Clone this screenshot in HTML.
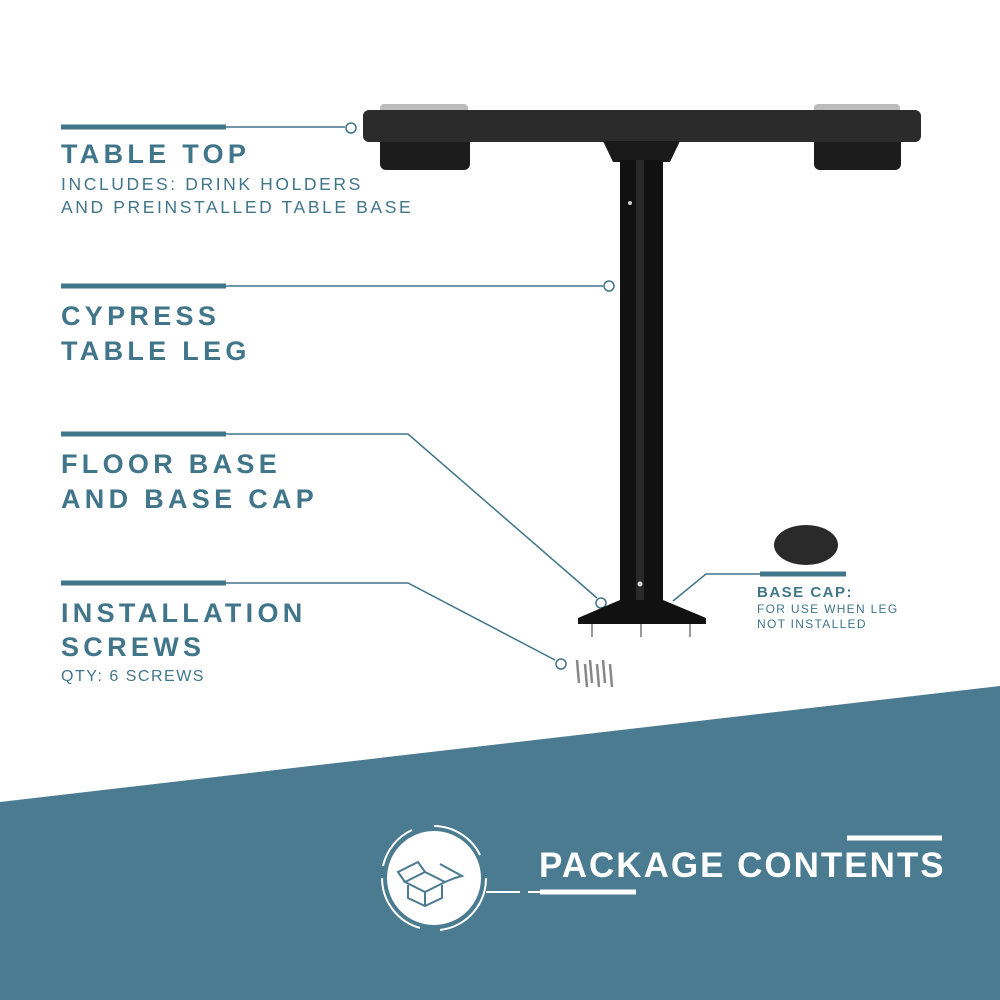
<!DOCTYPE html>
<html><head><meta charset="utf-8"><style>
html,body{margin:0;padding:0;background:#fff;}
svg{display:block}
text{font-family:"Liberation Sans",sans-serif;font-weight:bold;fill:#41758a;}
.s{font-weight:normal;letter-spacing:2.6px;font-size:17.5px}
.b{font-size:27px;letter-spacing:4.3px}
</style></head><body>
<svg width="1000" height="1000" viewBox="0 0 1000 1000">
<polygon points="0,802 1000,686 1000,1000 0,1000" fill="#4a7b90"/>
<g stroke="#41758a" fill="none">
<line x1="61" y1="127" x2="226" y2="127" stroke-width="5"/>
<line x1="226" y1="127" x2="345" y2="127" stroke-width="1.5"/>
<circle cx="351" cy="128" r="5" stroke-width="1.5"/>
<line x1="61" y1="286" x2="226" y2="286" stroke-width="5"/>
<line x1="226" y1="286" x2="603" y2="286" stroke-width="1.5"/>
<circle cx="609" cy="286" r="5" stroke-width="1.5"/>
<line x1="61" y1="434" x2="226" y2="434" stroke-width="5"/>
<polyline points="226,434 408,434 597,598" stroke-width="1.5"/>
<circle cx="601" cy="603" r="5" stroke-width="1.5"/>
<line x1="61" y1="583" x2="226" y2="583" stroke-width="5"/>
<polyline points="226,583 408,583 555,660" stroke-width="1.5"/>
<circle cx="561" cy="664" r="5" stroke-width="1.5"/>
<polyline points="673,601 706,574 760,574" stroke-width="1.5"/>
<line x1="760" y1="574" x2="846" y2="574" stroke-width="5"/>
</g>
<text x="61" y="163" class="b">TABLE TOP</text>
<text x="61" y="190" class="s">INCLUDES: DRINK HOLDERS</text>
<text x="61" y="213" class="s">AND PREINSTALLED TABLE BASE</text>
<text x="61" y="325" class="b">CYPRESS</text>
<text x="61" y="360" class="b">TABLE LEG</text>
<text x="61" y="473" class="b">FLOOR BASE</text>
<text x="61" y="508" class="b">AND BASE CAP</text>
<text x="61" y="622" class="b">INSTALLATION</text>
<text x="61" y="656" class="b">SCREWS</text>
<text x="61" y="681" style="font-weight:normal;letter-spacing:1.5px;font-size:16px">QTY: 6 SCREWS</text>
<text x="757" y="597" style="font-size:15px;letter-spacing:1.5px">BASE CAP:</text>
<text x="757" y="613" style="font-weight:normal;font-size:12px;letter-spacing:1.3px">FOR USE WHEN LEG</text>
<text x="757" y="628" style="font-weight:normal;font-size:12px;letter-spacing:1.3px">NOT INSTALLED</text>
<rect x="380" y="104" width="88" height="10" rx="4" fill="#bbb"/>
<rect x="814" y="104" width="86" height="10" rx="4" fill="#bbb"/>
<rect x="380" y="135" width="90" height="35" rx="6" fill="#1c1c1c"/>
<rect x="814" y="135" width="87" height="35" rx="6" fill="#1c1c1c"/>
<rect x="363" y="110" width="558" height="32" rx="6" fill="#2b2b2b"/>
<polygon points="603,141 680,141 670,162 613,162" fill="#1a1a1a"/>
<rect x="620" y="160" width="43" height="450" fill="#111"/>
<rect x="636" y="160" width="8" height="450" fill="#2a2a2a"/>
<circle cx="630" cy="203" r="2" fill="#ccc"/><circle cx="640" cy="584" r="2.5" fill="#ddd"/>
<polygon points="620,600 663,600 706,618 706,624 578,624 578,618" fill="#111"/>
<g stroke="#999" stroke-width="2"><line x1="592" y1="624" x2="592" y2="637"/><line x1="641" y1="624" x2="641" y2="637"/><line x1="690" y1="624" x2="690" y2="637"/></g>
<ellipse cx="806" cy="545" rx="32" ry="20" fill="#2a2a2a"/>
<g stroke="#888" stroke-width="2.5"><line x1="577" y1="660" x2="579" y2="683"/><line x1="585" y1="664" x2="587" y2="687"/><line x1="590" y1="660" x2="592" y2="683"/><line x1="597" y1="664" x2="599" y2="687"/><line x1="603" y1="660" x2="605" y2="683"/><line x1="610" y1="664" x2="612" y2="687"/></g>
<circle cx="434" cy="878" r="47" fill="#fff"/>
<path d="M434,826 A52,52 0 0 1 480,855 M486,878 A52,52 0 0 1 440,930 M420,928 A52,52 0 0 1 382,878 M383,866 A52,52 0 0 1 412,830" stroke="#fff" stroke-width="2" fill="none"/>
<g stroke="#4a7b90" stroke-width="2" fill="none"><polygon points="405,882 425,872 445,882 425,892"/><polyline points="408,885 408,898 425,906 442,898 442,885"/><line x1="425" y1="892" x2="425" y2="906"/><polyline points="405,882 398,872 418,862 425,872"/><polyline points="445,882 455,878 462,876 440,864"/></g>
<g stroke="#fff" stroke-width="2"><line x1="486" y1="892" x2="520" y2="892"/><line x1="528" y1="892" x2="540" y2="892"/></g>
<line x1="540" y1="892" x2="636" y2="892" stroke="#fff" stroke-width="5"/>
<line x1="847" y1="838" x2="942" y2="838" stroke="#fff" stroke-width="5"/>
<text x="539" y="877" style="fill:#fff;font-size:35px;letter-spacing:2px">PACKAGE CONTENTS</text>
</svg>
</body></html>
